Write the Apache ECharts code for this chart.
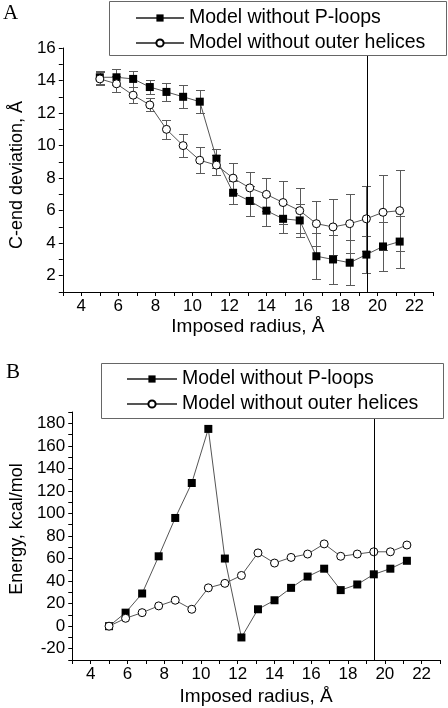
<!DOCTYPE html>
<html><head><meta charset="utf-8">
<script src="https://cdn.jsdelivr.net/npm/echarts@6/dist/echarts.min.js"></script>
<style>html,body{margin:0;padding:0;background:#fff}#c{width:448px;height:708px}</style>
</head><body><div id="c"></div>
<script>
// ---- data ----
const seriesNames = ['Model without P-loops', 'Model without outer helices'];
const radius = [5.0, 5.9, 6.8, 7.7, 8.6, 9.5, 10.4, 11.3, 12.2, 13.1, 14.0, 14.9, 15.8, 16.7, 17.6, 18.5, 19.4, 20.3, 21.2];
// Panel A: C-end deviation
const cendPloops     = [14.2, 14.2, 14.1, 13.6, 13.3, 13.0, 12.7, 9.2, 7.1, 6.6, 6.0, 5.5, 5.4, 3.2, 3.0, 2.8, 3.3, 3.8, 4.1];
const cendPloopsErr  = [0.4, 0.5, 0.5, 0.45, 0.55, 0.7, 0.7, 0.6, 0.7, 0.9, 0.95, 0.9, 1.0, 1.4, 1.5, 1.4, 1.15, 1.5, 1.6];
const cendHelices    = [14.1, 13.8, 13.1, 12.5, 11.0, 10.0, 9.1, 8.8, 8.0, 7.4, 7.0, 6.5, 6.0, 5.2, 5.0, 5.2, 5.5, 5.9, 6.0];
const cendHelicesErr = [0.4, 0.5, 0.5, 0.4, 0.6, 0.7, 0.8, 0.6, 0.9, 1.0, 1.0, 1.3, 1.4, 1.4, 1.7, 1.8, 2.0, 2.3, 2.5];
// Panel B: Energy
const energyPloops   = [0, 12, 29, 62, 96, 127, 175, 60, -10, 15, 23, 34, 44, 51, 32, 37, 46, 51, 58];
const energyHelices  = [0, 7, 12, 18, 23, 15, 34, 38, 45, 65, 56, 61, 64, 73, 62, 64, 66, 66, 72];
// reference radius (vertical line)
const refRadius = 19.43;
// axes
const xRange = [3, 23];
const yRangeA = [1, 16];
const yRangeB = [-30, 190];
const xTickLabels = [4, 6, 8, 10, 12, 14, 16, 18, 20, 22];
const yTickLabelsA = [2, 4, 6, 8, 10, 12, 14, 16];
const yTickLabelsB = [-20, 0, 20, 40, 60, 80, 100, 120, 140, 160, 180];

// ---- chart ----
const FONT = '"Liberation Sans", Arial, sans-serif';
const SERIF = '"Liberation Serif", "Times New Roman", serif';
const chart = echarts.init(document.getElementById('c'), null, {renderer: 'canvas'});

function fmt(list) { return v => (list.indexOf(Math.round(v * 1000) / 1000) >= 0 ? String(v) : ''); }

function xAxis(gi, gap) {
  return {
    type: 'value', gridIndex: gi, min: xRange[0], max: xRange[1], interval: 1,
    name: 'Imposed radius, Å', nameLocation: 'middle', nameGap: gap,
    nameTextStyle: {fontFamily: FONT, fontSize: 19, color: '#000'},
    axisLine: {show: true, onZero: false, lineStyle: {color: '#000', width: 1}},
    axisTick: {show: true, length: 4, lineStyle: {color: '#000'}},
    axisLabel: {formatter: fmt(xTickLabels), fontFamily: FONT, fontSize: 17, color: '#000', margin: 6},
    splitLine: {show: false}
  };
}
function yAxis(gi, range, interval, labels, name, pad) {
  return {
    type: 'value', gridIndex: gi, min: range[0], max: range[1], interval: interval,
    name: name, nameLocation: 'middle', nameRotate: 90, nameGap: 29,
    nameTextStyle: {fontFamily: FONT, fontSize: 18, color: '#000', padding: pad},
    axisLine: {show: true, onZero: false, lineStyle: {color: '#000', width: 1}},
    axisTick: {show: true, length: 4, lineStyle: {color: '#000'}},
    axisLabel: {formatter: fmt(labels), fontFamily: FONT, fontSize: 17, color: '#000', margin: 7},
    splitLine: {show: false}
  };
}

function errRender(params, api) {
  const x = api.value(0), lo = api.value(1), hi = api.value(2);
  const pLo = api.coord([x, lo]), pHi = api.coord([x, hi]);
  const cx = Math.round(pLo[0]) + 0.5;
  const yl = Math.round(pLo[1]) + 0.5, yh = Math.round(pHi[1]) + 0.5;
  const w = 4.5;
  const st = {stroke: '#5a5a5a', lineWidth: 1};
  return {type: 'group', children: [
    {type: 'line', shape: {x1: cx, y1: yl, x2: cx, y2: yh}, style: st},
    {type: 'line', shape: {x1: cx - w, y1: yl, x2: cx + w, y2: yl}, style: st},
    {type: 'line', shape: {x1: cx - w, y1: yh, x2: cx + w, y2: yh}, style: st}
  ]};
}

function pts(ys) { return radius.map((r, i) => [r, ys[i]]); }
function errs(ys, es) { return radius.map((r, i) => [r, ys[i] - es[i], ys[i] + es[i]]); }

const squareStyle = {symbol: 'rect', symbolSize: 8, itemStyle: {color: '#000', borderColor: '#000', borderWidth: 0}};
const circleStyle = {symbol: 'circle', symbolSize: 8, itemStyle: {color: '#fff', borderColor: '#000', borderWidth: 1}};
const lineSt = {color: '#555', width: 1};

function lineSeries(name, gi, data, style, extra) {
  return Object.assign({
    type: 'line', name: name, xAxisIndex: gi, yAxisIndex: gi, data: data,
    symbol: style.symbol, symbolSize: style.symbolSize, itemStyle: style.itemStyle,
    lineStyle: lineSt, showSymbol: true, z: 4, animation: false,
    emphasis: {disabled: true}
  }, extra || {});
}

const vline = {
  silent: true, symbol: ['none', 'none'], label: {show: false},
  lineStyle: {color: '#000', width: 1, type: 'solid'},
  data: [{xAxis: refRadius}], animation: false
};

function legend(left, top, w) {
  return {
    orient: 'vertical', left: left, top: top, padding: 0, itemGap: 5,
    itemWidth: w, itemHeight: 9, z: 12, selectedMode: false,
    textStyle: {fontFamily: FONT, fontSize: 19.5, color: '#000', lineHeight: 20},
    data: seriesNames
  };
}

const option = {
  backgroundColor: '#fff',
  animation: false,
  grid: [
    {left: 61, right: 15, top: 48, bottom: 416},
    {left: 61, right: 8, top: 412, bottom: 48}
  ],
  xAxis: [xAxis(0, 25), xAxis(1, 27)],
  yAxis: [
    yAxis(0, yRangeA, 1, yTickLabelsA, 'C-end deviation, Å', [0, 10, 0, 0]),
    yAxis(1, yRangeB, 10, yTickLabelsB, 'Energy, kcal/mol', [0, 0, 0, 14])
  ],
  legend: [legend(135, 8, 48), legend(126, 369, 50)],
  graphic: [
    {type: 'rect', left: 109, top: 1, shape: {width: 337, height: 54}, style: {fill: '#fff', stroke: '#666', lineWidth: 1}, z: 10},
    {type: 'rect', left: 101, top: 363, shape: {width: 342, height: 55}, style: {fill: '#fff', stroke: '#666', lineWidth: 1}, z: 10},
    {type: 'text', left: 3, top: 3, style: {text: 'A', font: '21px ' + SERIF, fill: '#000'}, z: 10},
    {type: 'text', left: 6, top: 362, style: {text: 'B', font: '21px ' + SERIF, fill: '#000'}, z: 10}
  ],
  series: [
    {type: 'custom', xAxisIndex: 0, yAxisIndex: 0, renderItem: errRender, data: errs(cendPloops, cendPloopsErr), encode: {x: 0, y: [1, 2]}, z: 2, silent: true},
    {type: 'custom', xAxisIndex: 0, yAxisIndex: 0, renderItem: errRender, data: errs(cendHelices, cendHelicesErr), encode: {x: 0, y: [1, 2]}, z: 2, silent: true},
    lineSeries(seriesNames[0], 0, pts(cendPloops), squareStyle, {markLine: vline}),
    lineSeries(seriesNames[1], 0, pts(cendHelices), circleStyle),
    lineSeries(seriesNames[0], 1, pts(energyPloops), squareStyle, {markLine: vline}),
    lineSeries(seriesNames[1], 1, pts(energyHelices), circleStyle)
  ]
};
chart.setOption(option);
</script></body></html>
